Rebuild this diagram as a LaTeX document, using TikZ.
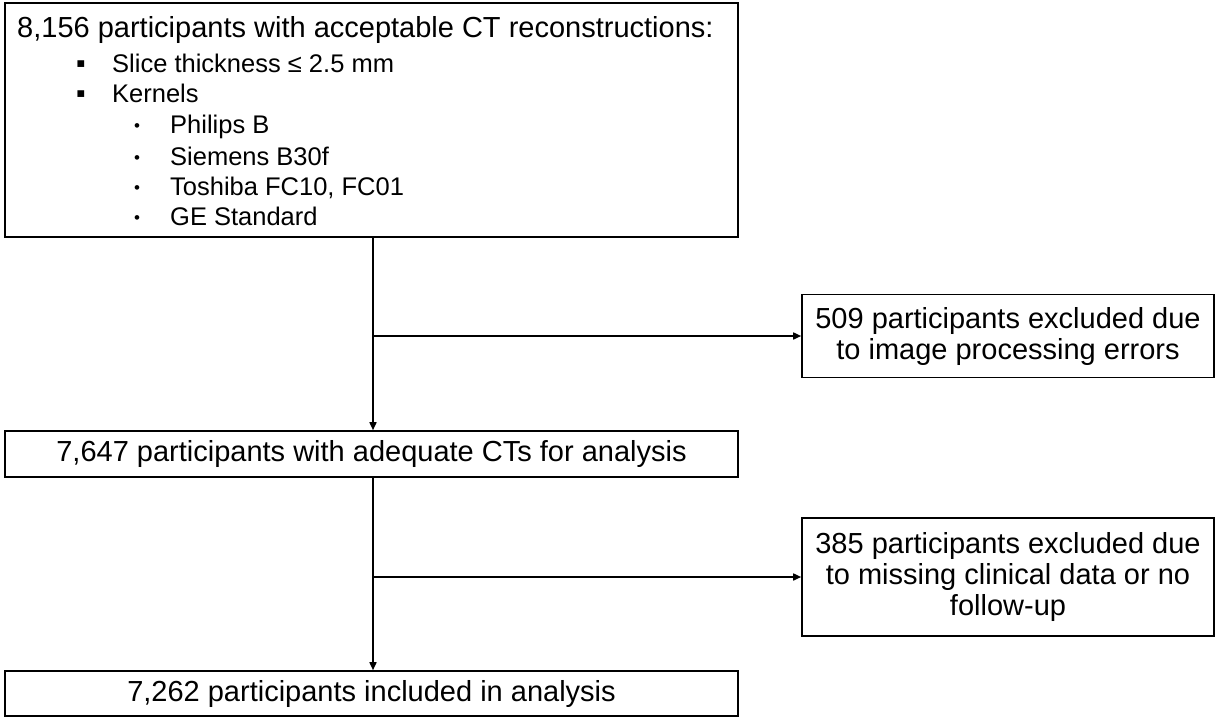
\documentclass[tikz,border=0pt]{standalone}
\usepackage{fontspec}
\setmainfont{Liberation Sans}
\usetikzlibrary{arrows.meta,calc}
\tikzset{
  box/.style={draw=black, line width=1.6pt, inner sep=0pt, align=center, font=\fontsize{29}{31}\selectfont},
  txt/.style={anchor=base west, inner sep=0pt, font=\fontsize{29}{31}\selectfont},
  sub/.style={txt, font=\fontsize{25.5}{31}\selectfont},
  sqbul/.style={txt, font=\fontsize{27}{31}\selectfont},
  rdbul/.style={txt, font=\fontsize{17}{31}\selectfont},
  link/.style={draw=black, line width=1.6pt},
  arr/.style={link, -{Triangle[length=8pt,width=7pt]}}
}
\begin{document}
\begin{tikzpicture}[x=1pt,y=-1pt]
\useasboundingbox (0,0) rectangle (1215,717);
% boxes
\node[box, minimum width=733pt, minimum height=234pt] (top) at (371.5,120) {};
\node[box, minimum width=733pt, minimum height=46pt] (mid) at (371.5,454) {7,647 participants with adequate CTs for analysis};
\node[box, minimum width=733pt, minimum height=45pt] (bot) at (371.5,693.5) {7,262 participants included in analysis};
\node[box, minimum width=412pt, minimum height=83pt] (ex1) at (1008,336) {509 participants excluded due\\to image processing errors};
\node[box, minimum width=412pt, minimum height=118pt] (ex2) at (1008,577) {385 participants excluded due\\to missing clinical data or no\\follow-up};
% top box text
\node[txt] (l1) at (17,38) {8,156 participants with acceptable CT reconstructions:};
\node[sqbul] (b1) at (76,72) {▪};
\node[sub] (l2) at (112,72) {Slice thickness ≤ 2.5 mm};
\node[sqbul] (b2) at (76,102) {▪};
\node[sub] (l3) at (112,102) {Kernels};
\node[rdbul] (b3) at (134,131) {•};
\node[sub] (l4) at (170,133) {Philips B};
\node[rdbul] (b4) at (134,163) {•};
\node[sub] (l5) at (170,165) {Siemens B30f};
\node[rdbul] (b5) at (134,193) {•};
\node[sub] (l6) at (170,195) {Toshiba FC10, FC01};
\node[rdbul] (b6) at (134,223) {•};
\node[sub] (l7) at (170,225) {GE Standard};
% junctions
\coordinate (j1) at (373,336);
\coordinate (j2) at (373,577);
% connectors
\draw[arr] (top.south -| j1) -- (mid.north -| j1);
\draw[arr] (j1) -- (ex1.west |- j1);
\draw[arr] (mid.south -| j2) -- (bot.north -| j2);
\draw[arr] (j2) -- (ex2.west |- j2);
\end{tikzpicture}
\end{document}
